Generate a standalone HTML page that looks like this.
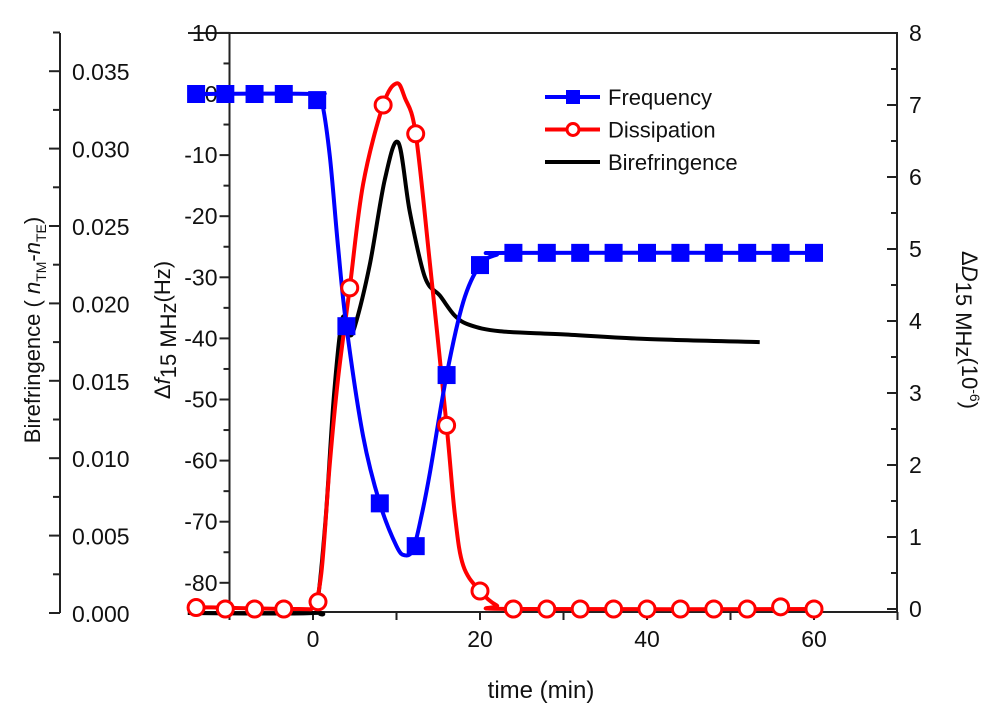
<!DOCTYPE html>
<html><head><meta charset="utf-8"><style>
body{margin:0;background:#fff;}
svg{display:block;font-family:"Liberation Sans",Arial,sans-serif;}
</style></head><body>
<svg id="c" width="1000" height="723" viewBox="0 0 1000 723"></svg>
<script>
const freqMarkT=[-14,-10.5,-7,-3.5,0.5,4,8,12.3,16,20,24,28,32,36,40,44,48,52,56,60];
const freqMarkV=[0,0,0,0,-1,-38,-67,-74,-46,-28,-26,-26,-26,-26,-26,-26,-26,-26,-26,-26];
const freqLineT=[-15,0,1,2,3,4,6,8,10,11,12,13,14,16,18,20,22,24,61];
const freqLineV=[0,0,-1,-10,-25,-38,-56,-67,-74,-75.5,-74.5,-69,-62,-46,-34,-28,-26.3,-26,-26];
const dissMarkT=[-14,-10.5,-7,-3.5,0.6,4.4,8.4,12.3,16,20,24,28,32,36,40,44,48,52,56,60];
const dissMarkV=[0.02,0,0,0,0.1,4.46,7.0,6.6,2.55,0.25,0,0,0,0,0,0,0,0,0.03,0];
const dissLineT=[-15,-2,0,1,2,3,4.4,6,8.4,10,11,12.3,14,16,17,18,20,22,24,61];
const dissLineV=[0.03,0,0.05,0.5,2,3.2,4.46,5.9,7.0,7.3,7.1,6.6,4.8,2.55,1.3,0.6,0.25,0.05,0,0];
const birT=[-15,0,0.5,1.5,2.5,3.5,4.3,5,6.8,8.6,10.2,11.6,13.4,15.2,17,18.8,22.4,30,40,53.5];
const birV=[0,0,0.0005,0.006,0.014,0.019,0.018,0.0185,0.0225,0.028,0.0304,0.0259,0.0217,0.0205,0.0192,0.0186,0.0182,0.018,0.0177,0.0175];
const xTicks=[0,20,40,60];
const freqTickLabels=["10","0","-10","-20","-30","-40","-50","-60","-70","-80"];
const dTicks=[0,1,2,3,4,5,6,7,8];
const birTicks=["0.000","0.005","0.010","0.015","0.020","0.025","0.030","0.035"];

const NS="http://www.w3.org/2000/svg",svg=document.getElementById('c');
const X0=188,X1=897,Y0=33,Y1=612;
const xs=t=>313+t*8.35;
const yf=v=>94-v*6.11;
const yd=v=>609-v*72;
const yb=v=>613-v*15480;
function el(tag,a,p){const e=document.createElementNS(NS,tag);for(const k in a)e.setAttribute(k,a[k]);(p||svg).appendChild(e);return e;}
function smooth(P){let d=`M${P[0][0]},${P[0][1]}`;for(let i=0;i<P.length-1;i++){const p0=P[Math.max(0,i-1)],p1=P[i],p2=P[i+1],p3=P[Math.min(P.length-1,i+2)];d+=`C${p1[0]+(p2[0]-p0[0])/6},${p1[1]+(p2[1]-p0[1])/6} ${p2[0]-(p3[0]-p1[0])/6},${p2[1]-(p3[1]-p1[1])/6} ${p2[0]},${p2[1]}`;}return d;}
function txt(s,x,y,a,name){const e=el('text',Object.assign({x:x,y:y,'font-size':22,fill:'#111'},a));e.textContent=s;return e;}
const ax={stroke:'#222','stroke-width':2,fill:'none'};
let f=el('path',Object.assign({d:`M${X0},${Y1}H${X1}V${Y0}H${X0}`},ax));

for(let t=-10;t<=70;t+=10){el('line',Object.assign({x1:xs(t),x2:xs(t),y1:Y1,y2:Y1+8},ax));}
xTicks.forEach(t=>txt(String(t),xs(t),Y1+35,{'text-anchor':'middle','font-size':23},'x-tick-label'));
const FA=xs(-10);
el('line',Object.assign({x1:FA,x2:FA,y1:Y0,y2:Y1},ax));
for(let v=10;v>=-80;v-=5){el('line',Object.assign({x1:FA-(v%10===0?10:6),x2:FA,y1:yf(v),y2:yf(v)},ax));}
for(let i=0;i<freqTickLabels.length;i++){const v=10-10*i;txt(freqTickLabels[i],FA-12,yf(v)+8,{'text-anchor':'end','font-size':23},'freq-tick-label');}
for(let v=0;v<=8;v+=0.5){el('line',Object.assign({x1:X1-(v%1===0?10:6),x2:X1,y1:yd(v),y2:yd(v)},ax));}
dTicks.forEach(v=>txt(String(v),X1+12,yd(v)+8,{'font-size':23},'dissipation-tick-label'));
const BA=60;
el('line',Object.assign({x1:BA,x2:BA,y1:Y0,y2:613},ax));
for(let i=0;i<=15;i++){const v=i*0.0025;el('line',Object.assign({x1:BA-(i%2===0?11:7),x2:BA,y1:yb(v),y2:yb(v)},ax));}
birTicks.forEach((s,i)=>txt(s,72,yb(i*0.005)+9,{'font-size':23},'birefringence-tick-label'));
txt('time (min)',541,698,{'text-anchor':'middle','font-size':24},'x-axis-title');
let t1=el('text',{transform:'translate(40,330) rotate(-90)','text-anchor':'middle','font-size':22,fill:'#111'});
t1.innerHTML='Birefringence  ( <tspan font-style="italic">n</tspan><tspan font-size="14" dy="6">TM</tspan><tspan dy="-6">-</tspan><tspan font-style="italic">n</tspan><tspan font-size="14" dy="6">TE</tspan><tspan dy="-6">)</tspan>';

let t2=el('text',{transform:'translate(170,330) rotate(-90)','text-anchor':'middle','font-size':22,fill:'#111'});
t2.innerHTML='Δ<tspan font-style="italic">f</tspan><tspan dy="6">15 MHz</tspan><tspan dy="-6">(Hz)</tspan>';

let t3=el('text',{transform:'translate(962,330) rotate(90)','text-anchor':'middle','font-size':22,fill:'#111'});
t3.innerHTML='Δ<tspan font-style="italic">D</tspan><tspan dy="6">15 MHz</tspan><tspan dy="-6">(10</tspan><tspan font-size="14" dy="-8">-6</tspan><tspan dy="8">)</tspan>';

let pb=el('path',{d:smooth(birT.map((t,i)=>[xs(t),yb(birV[i])])),stroke:'#000','stroke-width':4,fill:'none'});

let pd=el('path',{d:smooth(dissLineT.map((t,i)=>[xs(t),yd(dissLineV[i])])),stroke:'#f00','stroke-width':4,fill:'none'});

let pf=el('path',{d:smooth(freqLineT.map((t,i)=>[xs(t),yf(freqLineV[i])])),stroke:'#00f','stroke-width':4,fill:'none'});

dissMarkT.forEach((t,i)=>{const c=el('circle',{cx:xs(t),cy:yd(dissMarkV[i]),r:8,fill:'#fff',stroke:'#f00','stroke-width':3});
});
freqMarkT.forEach((t,i)=>{const r=el('rect',{x:xs(t)-9,y:yf(freqMarkV[i])-9,width:18,height:18,fill:'#00f'});
});
const leg=[['Frequency','#00f','sq'],['Dissipation','#f00','ci'],['Birefringence','#000','']];
leg.forEach((l,i)=>{const y=97+i*32.5;const g=el('g',{});

el('line',{x1:545,x2:600,y1:y,y2:y,stroke:l[1],'stroke-width':4},g);
if(l[2]==='sq')el('rect',{x:566,y:y-7,width:14,height:14,fill:l[1]},g);
if(l[2]==='ci')el('circle',{cx:573,cy:y,r:6,fill:'#fff',stroke:l[1],'stroke-width':3},g);
const tx=el('text',{x:608,y:y+8,'font-size':22,fill:'#111'},g);tx.textContent=l[0];});
</script>
</body></html>
